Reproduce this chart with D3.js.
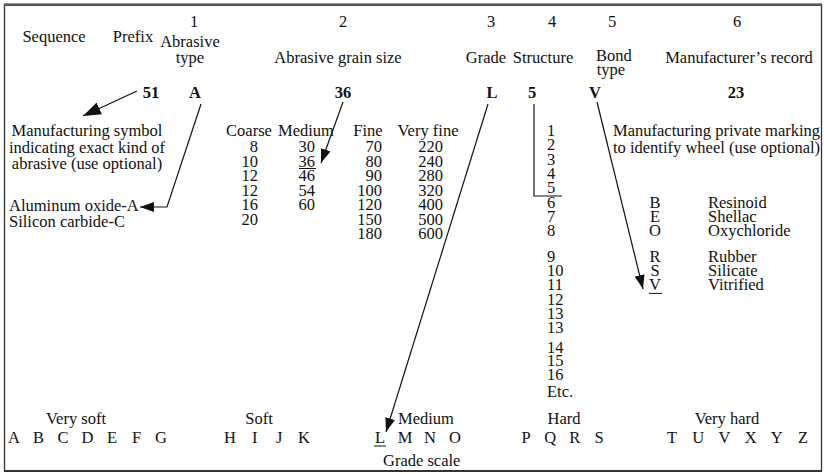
<!DOCTYPE html>
<html>
<head>
<meta charset="utf-8">
<script src="https://cdn.jsdelivr.net/npm/d3@7"></script>
<style>
  html, body { margin: 0; padding: 0; background: #fff; }
  svg text { font-family: "Liberation Serif", "Times New Roman", serif; font-size: 16.5px; fill: #111; }
</style>
</head>
<body>
<svg id="chart" width="824" height="474"></svg>
<script>
// ---------- data ----------
const sequenceLabels = ["Sequence", "Prefix"];
const stepNumbers = ["1", "2", "3", "4", "5", "6"];
const stepTitles = [["Abrasive", "type"], ["Abrasive grain size"], ["Grade"], ["Structure"], ["Bond", "type"], ["Manufacturer’s record"]];
const exampleCode = ["51", "A", "36", "L", "5", "V", "23"];
const symbolNote = ["Manufacturing symbol", "indicating exact kind of", "abrasive (use optional)"];
const abrasiveTypes = ["Aluminum oxide-A", "Silicon carbide-C"];
const grainClasses = ["Coarse", "Medium", "Fine", "Very fine"];
const coarseSizes = ["8", "10", "12", "12", "16", "20"];
const mediumSizes = ["30", "36", "46", "54", "60"];
const fineSizes = ["70", "80", "90", "100", "120", "150", "180"];
const veryFineSizes = ["220", "240", "280", "320", "400", "500", "600"];
const structureGroup1 = ["1", "2", "3", "4", "5", "6", "7", "8"];
const structureGroup2 = ["9", "10", "11", "12", "13", "13"];
const structureGroup3 = ["14", "15", "16", "Etc."];
const markingNote = ["Manufacturing private marking", "to identify wheel (use optional)"];
const bondCodes = ["B", "E", "O", "R", "S", "V"];
const bondNames = ["Resinoid", "Shellac", "Oxychloride", "Rubber", "Silicate", "Vitrified"];
const gradeGroups = ["Very soft", "Soft", "Medium", "Hard", "Very hard"];
const gradeLetters = [
  ["A", "B", "C", "D", "E", "F", "G"],
  ["H", "I", "J", "K"],
  ["L", "M", "N", "O"],
  ["P", "Q", "R", "S"],
  ["T", "U", "V", "X", "Y", "Z"]
];
const gradeScaleLabel = "Grade scale";

// ---------- layout ----------
const svg = d3.select("#chart");

// frame
svg.append("rect").attr("x", 4.5).attr("y", 4.5).attr("width", 817).attr("height", 466.5)
  .attr("fill", "none").attr("stroke", "#333").attr("stroke-width", 1.3);
svg.append("line").attr("x1", 4).attr("x2", 822).attr("y1", 4.8).attr("y2", 4.8)
  .attr("stroke", "#555").attr("stroke-width", 2.4);
svg.append("line").attr("x1", 4).attr("x2", 822).attr("y1", 471).attr("y2", 471)
  .attr("stroke", "#333").attr("stroke-width", 2);

// arrow markers
const defs = svg.append("defs");
function marker(id, len, wid) {
  defs.append("marker").attr("id", id).attr("viewBox", `0 0 ${len} ${wid}`)
    .attr("refX", len).attr("refY", wid / 2)
    .attr("markerWidth", len).attr("markerHeight", wid)
    .attr("markerUnits", "userSpaceOnUse").attr("orient", "auto")
    .append("path").attr("d", `M0,0 L${len},${wid / 2} L0,${wid} Z`).attr("fill", "#111");
}
marker("head", 14, 10);
marker("headBig", 18, 13);

const stepX = d3.scaleOrdinal().domain(stepNumbers).range([194, 343, 491, 552, 612, 737]);
const text = (x, y, s, anchor = "middle") =>
  svg.append("text").attr("x", x).attr("y", y).attr("text-anchor", anchor).text(s);

// header row
const seqX = d3.scaleOrdinal().domain(sequenceLabels).range([54, 133]);
sequenceLabels.forEach(s => text(seqX(s), 42, s));
stepNumbers.forEach(n => text(stepX(n), 27, n));

const titleX = [190, 338, 486, 543, 614, 739];
const titleY = [[47, 63], [63], [63], [63], [61, 75], [63]];
stepTitles.forEach((lines, i) => {
  lines.forEach((ln, j) => {
    const y = titleY[i][j];
    const x = (i === 4 && j === 1) ? 611 : titleX[i];
    text(x, y, ln);
  });
});

// example code (bold)
const codeX = d3.scaleOrdinal().domain(d3.range(exampleCode.length)).range([151, 195, 343, 492, 532, 595, 736]);
exampleCode.forEach((c, i) => text(codeX(i), 98, c).attr("font-weight", "bold"));

// left notes
symbolNote.forEach((s, i) => text(87, 136 + i * 16.5, s));
abrasiveTypes.forEach((s, i) => text(9, 211 + i * 16, s, "start"));

// grain sizes
const grainHeaderX = d3.scaleOrdinal().domain(grainClasses).range([249, 306, 368, 428]);
grainClasses.forEach(g => text(grainHeaderX(g), 136, g));
const grainRowY = d3.scaleLinear().domain([0, 1]).range([152, 166.5]);
const grainCols = [coarseSizes, mediumSizes, fineSizes, veryFineSizes];
const grainRight = [258, 315, 382, 443];
grainCols.forEach((col, ci) => {
  col.forEach((v, ri) => text(grainRight[ci], grainRowY(ri), v, "end"));
});
// underline 36
{
  const ri = mediumSizes.indexOf(exampleCode[2]);
  svg.append("line").attr("x1", 299).attr("x2", 316)
    .attr("y1", grainRowY(ri) + 2).attr("y2", grainRowY(ri) + 2)
    .attr("stroke", "#111").attr("stroke-width", 1);
}

// structure
const structY1 = d3.scaleLinear().domain([0, 1]).range([136, 150.3]);
const structY2 = d3.scaleLinear().domain([0, 1]).range([262, 276.2]);
const structY3 = d3.scaleLinear().domain([0, 1]).range([353, 366.3]);
structureGroup1.forEach((s, i) => text(547, structY1(i), s, "start"));
structureGroup2.forEach((s, i) => text(547, structY2(i), s, "start"));
structureGroup3.forEach((s, i) => text(547, structY3(i) + (s === "Etc." ? 4 : 0), s, "start"));

// marking note
markingNote.forEach((s, i) => text(613, 136 + i * 16.5, s, "start"));

// bond types: rows share the structure rows 6..11
const bondY = i => i < 3 ? structY1(5 + i) : structY2(i - 3);
bondCodes.forEach((c, i) => text(655, bondY(i), c));
bondNames.forEach((n, i) => text(708, bondY(i), n, "start"));
{
  const vi = bondCodes.indexOf(exampleCode[5]);
  svg.append("line").attr("x1", 649).attr("x2", 662)
    .attr("y1", bondY(vi) + 3).attr("y2", bondY(vi) + 3)
    .attr("stroke", "#111").attr("stroke-width", 1);
}

// grade scale
const groupRanges = [[14, 161], [230, 304], [380, 455], [526, 599], [672, 803]];
const groupLabelX = [76, 259, 426, 564, 727];
const letterScales = gradeLetters.map((ls, i) => d3.scalePoint().domain(ls).range(groupRanges[i]));
gradeGroups.forEach((g, i) => {
  text(groupLabelX[i], 424, g);
  gradeLetters[i].forEach(l => text(letterScales[i](l), 443, l));
});
text(383, 466, gradeScaleLabel, "start");
const lX = letterScales[2](exampleCode[3]);
svg.append("line").attr("x1", lX - 6).attr("x2", lX + 6).attr("y1", 446).attr("y2", 446)
  .attr("stroke", "#111").attr("stroke-width", 1);

// ---------- connectors ----------
const line = d3.line();
function conn(pts, head) {
  const p = svg.append("path").attr("d", line(pts)).attr("fill", "none")
    .attr("stroke", "#111").attr("stroke-width", 1.2);
  if (head) p.attr("marker-end", `url(#${head})`);
}
conn([[137, 91], [83, 116]], "headBig");
conn([[201, 104], [167, 207], [140, 207]], "head");
conn([[343, 102], [321, 163]], "head");
conn([[488, 104], [386, 432]], "head");
conn([[534, 104], [534, 196], [562, 196]], null);
conn([[597, 102], [643, 289]], "head");
</script>
</body>
</html>
